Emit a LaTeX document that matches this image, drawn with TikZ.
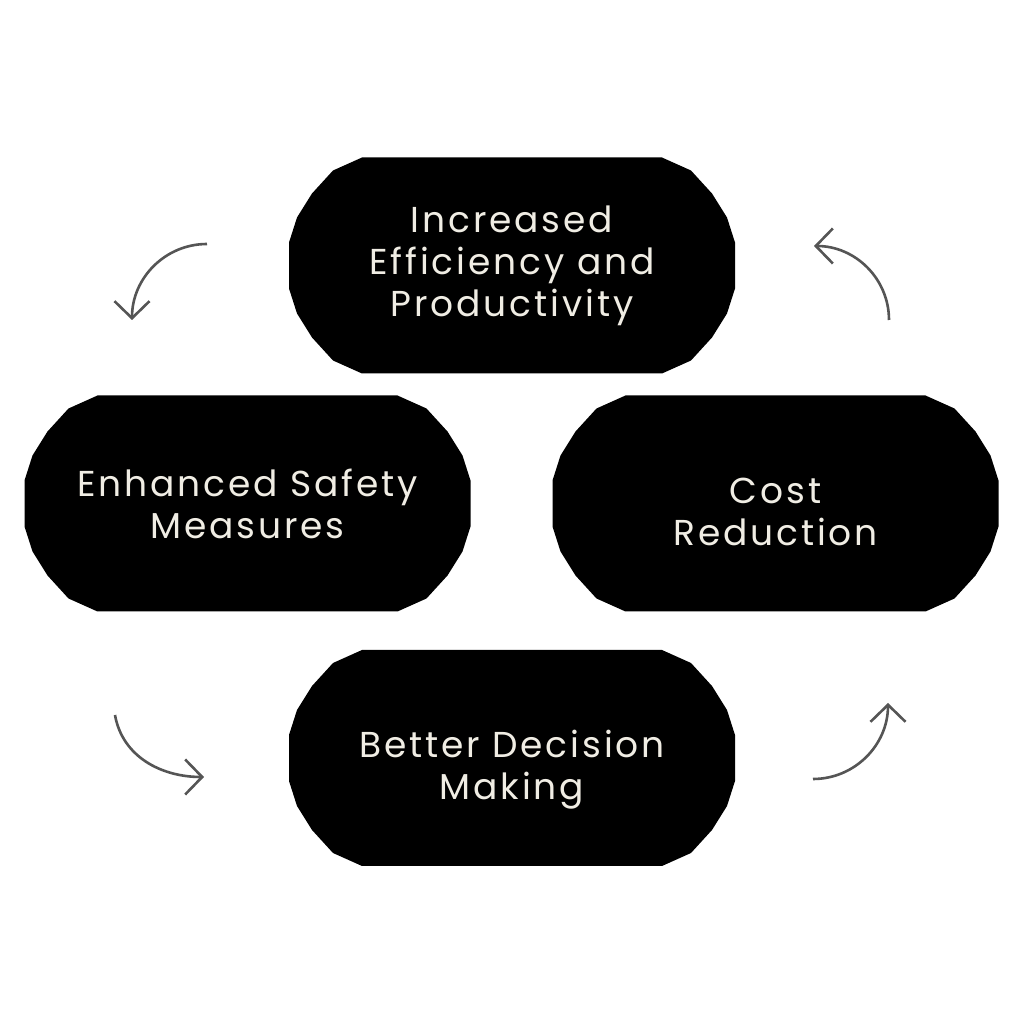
\documentclass[tikz,border=0pt]{standalone}
\usepackage{fontspec}
\setmainfont{Poppins}[LetterSpace=8]
\usepackage{xcolor}
\usepackage{tikz}
\usetikzlibrary{arrows.meta, backgrounds}
\definecolor{pilltext}{RGB}{240, 237, 228}
\definecolor{arrowgray}{RGB}{85, 85, 85}
\tikzstyle{pill} = [rectangle, minimum width=222.5pt, minimum height=108.5pt, inner sep=0pt, text centered, align=center, text=pilltext, font=\fontsize{18}{21}\selectfont]
\tikzstyle{arrow} = [line width=1.3pt, -{Straight Barb[length=8.5pt, width=17.5pt]}, color=arrowgray]

\begin{document}
\begin{tikzpicture}[x=0.5pt, y=0.5pt]
    \useasboundingbox (0,0) rectangle (1024,1024);
    % Nodes
    \node (efficiency) [pill] at (512,758.5) {Increased\\Efficiency and\\Productivity};
    \node (safety) [pill] at (247.5,520.5) {Enhanced Safety\\Measures};
    \node (cost) [pill] at (775.5,512.5) {Cost\\Reduction};
    \node (decision) [pill] at (512,254) {Better Decision\\Making};

    % Pill shapes behind the text
    \begin{scope}[on background layer]
        \fill[white] (0,0) rectangle (1024,1024);
        \foreach \n/\dy in {efficiency/0, safety/0, cost/8, decision/12}
            \fill[black, shift={(\n.center)}, shift={(0,\dy)}] plot coordinates {(-150,108) (-179,95) (-200,72) (-215,48) (-223,23) (-223,-23) (-215,-48) (-200,-72) (-179,-95) (-150,-108) (150,-108) (179,-95) (200,-72) (215,-48) (223,-23) (223,23) (215,48) (200,72) (179,95) (150,108)} -- cycle;
    \end{scope}

    % Arrow ends
    \coordinate (a1s) at (207,780);
    \coordinate (a1e) at (132,704);
    \coordinate (a2s) at (889,704);
    \coordinate (a2e) at (814,778);
    \coordinate (a3s) at (115,309);
    \coordinate (a3e) at (204,247);
    \coordinate (a4s) at (813,245);
    \coordinate (a4e) at (888,321);

    % Arrows
    \draw [arrow] (a1s) to[out=180, in=90] (a1e);
    \draw [arrow] (a2s) to[out=90, in=0] (a2e);
    \draw [arrow] (a3s) to[out=-80, in=180] (a3e);
    \draw [arrow] (a4s) to[out=0, in=-90] (a4e);
\end{tikzpicture}
\end{document}
